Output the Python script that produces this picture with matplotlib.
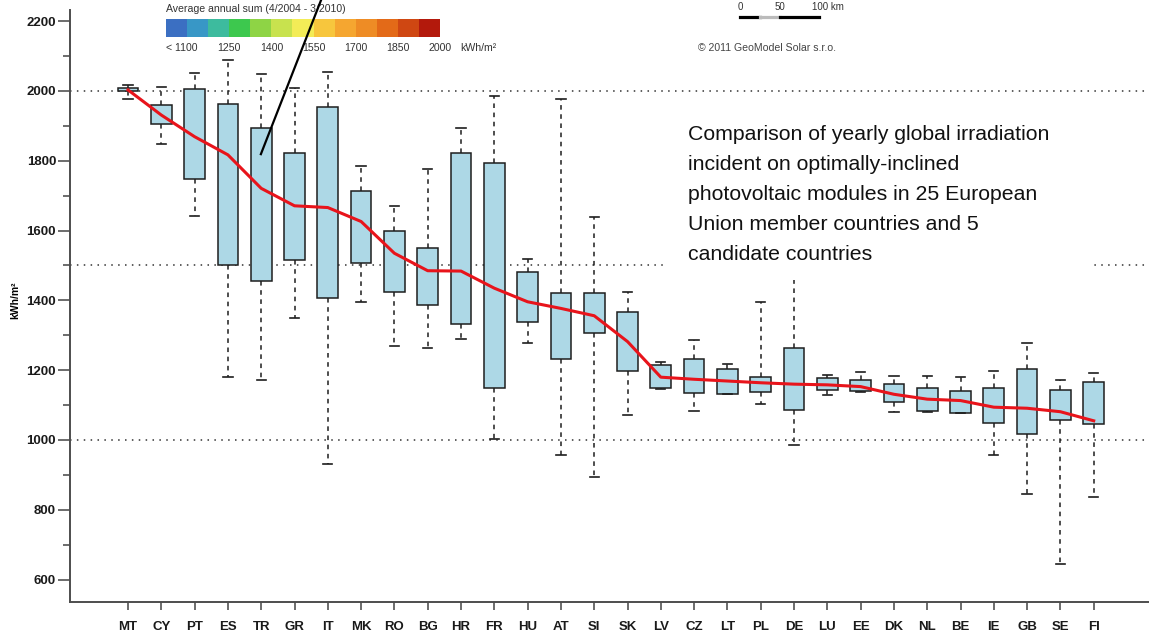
import matplotlib.pyplot as plt
from matplotlib.patches import Rectangle
from matplotlib.lines import Line2D

plt.rcParams['font.family'] = ['Liberation Sans', 'DejaVu Sans']

countries = ["MT", "CY", "PT", "ES", "TR", "GR", "IT", "MK", "RO", "BG",
             "HR", "FR", "HU", "AT", "SI", "SK", "LV", "CZ", "LT", "PL",
             "DE", "LU", "EE", "DK", "NL", "BE", "IE", "GB", "SE", "FI"]
whisk_lo = [1977, 1847, 1643, 1180, 1172, 1350, 931, 1395, 1269, 1265,
            1290, 1003, 1279, 958, 893, 1072, 1145, 1084, 1132, 1102,
            986, 1128, 1137, 1079, 1081, 1076, 957, 845, 645, 838]
q1 = [2000, 1904, 1748, 1500, 1455, 1516, 1408, 1506, 1423, 1387,
      1331, 1148, 1338, 1231, 1306, 1197, 1148, 1136, 1132, 1137,
      1087, 1143, 1139, 1108, 1084, 1076, 1050, 1016, 1056, 1045]
q3 = [2008, 1959, 2006, 1964, 1893, 1823, 1955, 1712, 1600, 1549,
      1823, 1794, 1480, 1420, 1420, 1368, 1215, 1231, 1203, 1180,
      1265, 1179, 1172, 1160, 1149, 1140, 1149, 1203, 1143, 1165]
whisk_hi = [2017, 2010, 2051, 2089, 2049, 2008, 2055, 1785, 1671, 1777,
            1893, 1987, 1518, 1977, 1640, 1423, 1224, 1287, 1217, 1396,
            1560, 1185, 1196, 1183, 1183, 1181, 1199, 1277, 1172, 1191]
mean_vals = [2003, 1931, 1869, 1817, 1721, 1671, 1666, 1626, 1535, 1485,
             1484, 1435, 1396, 1377, 1356, 1282, 1180, 1174, 1169, 1164,
             1160, 1158, 1153, 1131, 1117, 1113, 1094, 1091, 1081, 1055]
ref_lines = [1000, 1500, 2000]

# colour legend of the map
legend_bins = [1025, 1100, 1175, 1250, 1325, 1400, 1475, 1550, 1625, 1700, 1775, 1850, 1925]
legend_cols = ['#3b6fc2', '#3897c6', '#3dbb9e', '#3dc84e', '#8ed445', '#c8e24e', '#f3ec57',
               '#f7c63d', '#f5a630', '#ee8c25', '#e36a18', '#cf4712', '#b3190c']
legend_ticks = [1250, 1400, 1550, 1700, 1850, 2000]

note = ("Comparison of yearly global irradiation\n"
        "incident on optimally-inclined\n"
        "photovoltaic modules in 25 European\n"
        "Union member countries and 5\n"
        "candidate countries")

W, H = 1149, 634
fig = plt.figure(figsize=(W / 100, H / 100), dpi=100)
ax = fig.add_axes([70 / W, 1 - 601.7 / H, 1 - 70 / W, 591.7 / H])
ax.patch.set_visible(False)

stats = []
for i in range(len(countries)):
    stats.append(dict(label=countries[i], whislo=whisk_lo[i], q1=q1[i], med=q1[i],
                      q3=q3[i], whishi=whisk_hi[i]))
pos = list(range(len(countries)))
ax.bxp(stats, positions=pos, widths=0.62, showfliers=False, patch_artist=True,
       boxprops=dict(facecolor='#add8e6', edgecolor='#1e1e1e', linewidth=1.1),
       whiskerprops=dict(color='#1e1e1e', linestyle=(0, (3, 3)), linewidth=1.1),
       capprops=dict(color='#1e1e1e', linewidth=1.2),
       medianprops=dict(linewidth=0), capwidths=0.28)

ax.plot(pos, mean_vals, color='#e8141b', lw=2.2, zorder=4)

for v in ref_lines:
    ax.axhline(v, color='#333333', ls=(0, (1, 3.5)), lw=1.1, zorder=0.5)

# pointer line coming from the map
ax.plot([5.80, 3.99], [2261, 1819], color='black', lw=1.6, clip_on=False, zorder=6)

ax.set_xlim(-1.742, 30.66)
ax.set_ylim(536.7, 2232)
for s in ['top', 'right']:
    ax.spines[s].set_visible(False)
for s in ['left', 'bottom']:
    ax.spines[s].set_color('#4d4d4d')
    ax.spines[s].set_linewidth(1.4)

ax.set_yticks(range(600, 2201, 200))
ax.set_yticks(range(700, 2200, 200), minor=True)
ax.tick_params(axis='y', which='major', length=8.5, width=1.1, color='#444444', pad=1.5, labelsize=9.5)
ax.tick_params(axis='y', which='minor', length=5, width=1.1, color='#444444')
ax.tick_params(axis='x', length=5.8, width=1.1, color='#444444', pad=8, labelsize=9.5)
for lbl in ax.get_yticklabels() + ax.get_xticklabels():
    lbl.set_fontweight('bold')
    lbl.set_color('#1a1a1a')

ax.set_ylabel("kWh/m²", fontsize=7.5, fontweight='bold')
ax.yaxis.set_label_coords(-0.046, 0.51)

lax = fig.add_axes([166 / W, 1 - 37 / H, 274 / W, 18 / H], zorder=-1)
lax.bar(legend_bins, 1, width=75, align='edge', color=legend_cols)
lax.set_xlim(1025, 2000)
lax.set_ylim(0, 1)
lax.axis('off')
lax.text(1025, 1.56, "Average annual sum (4/2004 - 3/2010)", ha='left', va='center',
         fontsize=7.6, color='#333333')
lax.text(1025, -0.61, "< 1100", ha='left', va='center', fontsize=7.6, color='#333333')
for v in legend_ticks:
    lax.text(v, -0.61, str(v), ha='center', va='center', fontsize=7.6, color='#333333')
lax.text(2071, -0.61, "kWh/m²", ha='left', va='center', fontsize=7.6, color='#333333')

# scale bar and credit
fig.add_artist(Line2D([740 / W, 760 / W], [1 - 17 / H] * 2, color='black', lw=2.3))
fig.add_artist(Line2D([760 / W, 780 / W], [1 - 17 / H] * 2, color='#bbbbbb', lw=2.3))
fig.add_artist(Line2D([780 / W, 819 / W], [1 - 17 / H] * 2, color='black', lw=2.3))
fig.text(740 / W, 1 - 7 / H, "0", ha='center', va='center', fontsize=7, color='#333333')
fig.text(780 / W, 1 - 7 / H, "50", ha='center', va='center', fontsize=7, color='#333333')
fig.text(812 / W, 1 - 7 / H, "100 km", ha='left', va='center', fontsize=7, color='#333333')
fig.text(698 / W, 1 - 48 / H, "© 2011 GeoModel Solar s.r.o.", ha='left', va='center',
         fontsize=7.6, color='#444444')

fig.add_artist(Rectangle((668 / W, 1 - 280 / H), 422 / W, 175 / H, transform=fig.transFigure,
                         facecolor='white', edgecolor='none', zorder=5))
fig.text(688 / W, 1 - 125 / H, note, ha='left', va='top', fontsize=15.3, linespacing=1.73,
         color='#111111', zorder=6)

fig.savefig('out.png', dpi=100)
